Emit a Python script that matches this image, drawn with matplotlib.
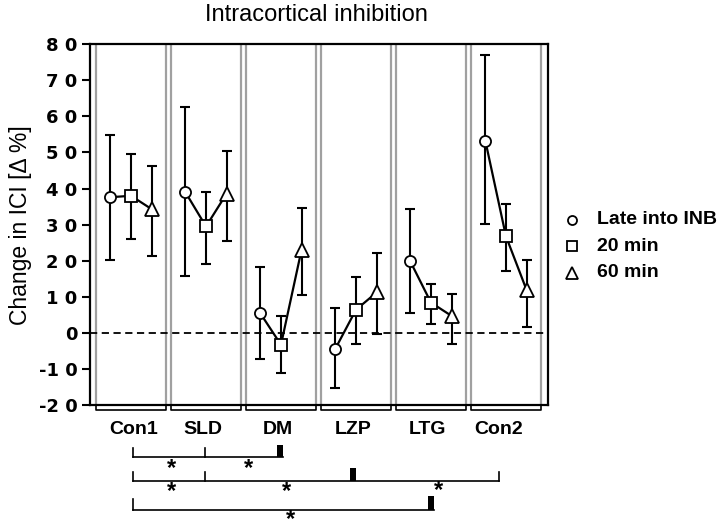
import numpy as np
import matplotlib
matplotlib.use('Agg')
import matplotlib.pyplot as plt
from matplotlib.ticker import FuncFormatter

plt.rcParams['font.family'] = ['Liberation Sans', 'DejaVu Sans']

groups = ['Con1', 'SLD', 'DM', 'LZP', 'LTG', 'Con2']
series = ['Late into INB', '20 min', '60 min']

# mean change in ICI (%) per group, one row per time point
late_mean = [37.6, 39.0, 5.4, -4.4, 19.8, 53.3]
late_hi = [54.8, 62.6, 18.2, 6.8, 34.3, 77.0]
late_lo = [20.1, 15.8, -7.3, -15.3, 5.5, 30.2]

m20_mean = [38.0, 29.5, -3.3, 6.4, 8.4, 26.8]
m20_hi = [49.6, 39.1, 4.8, 15.5, 13.5, 35.8]
m20_lo = [26.0, 19.2, -11.0, -3.1, 2.5, 17.2]

m60_mean = [34.3, 38.6, 23.1, 11.2, 4.7, 11.9]
m60_hi = [46.2, 50.5, 34.7, 22.1, 10.7, 20.3]
m60_lo = [21.2, 25.5, 10.6, -0.2, -3.1, 1.7]

means = np.array([late_mean, m20_mean, m60_mean])
his = np.array([late_hi, m20_hi, m60_hi])
los = np.array([late_lo, m20_lo, m60_lo])
markers = ['o', 's', '^']
msizes = [8, 8, 9.5]

fig = plt.figure(figsize=(7.2, 5.24), dpi=100)
ax = fig.add_axes([0.125, 0.2271, 0.636, 0.6884])

gx = np.arange(len(groups))
offs = [-0.275, 0.0, 0.275]
half = 0.467

# panels: grey edges and brackets underneath
for g in gx:
    for e in (g - half, g + half):
        ax.plot([e, e], [-20, 80], color='#a0a0a0', lw=1.6, zorder=1)
    ax.plot([g - half, g - half, g + half, g + half], [-20, -21.5, -21.5, -20],
            color='black', lw=1.2, clip_on=False, zorder=1)

ax.axhline(0, color='black', lw=1.3, ls=(0, (4, 2.5)), zorder=2)

for g in gx:
    xs = g + np.array(offs)
    ax.plot(xs, means[:, g], color='black', lw=1.6, zorder=3)
    for k in range(3):
        ax.errorbar(xs[k], means[k, g],
                    yerr=[[means[k, g] - los[k, g]], [his[k, g] - means[k, g]]],
                    fmt='none', ecolor='black', elinewidth=1.5, capsize=3.5,
                    capthick=1.5, zorder=3)
        ax.plot(xs[k], means[k, g], marker=markers[k], ms=msizes[k],
                mfc='white', mec='black', mew=1.3, zorder=4)

ax.set_xlim(-0.547, 5.56)
ax.set_ylim(-20, 80)
ax.set_yticks(np.arange(-20, 81, 10))
ax.yaxis.set_major_formatter(FuncFormatter(lambda v, p: ' '.join(str(int(v)))
                                           if v >= 0 else '-' + ' '.join(str(int(-v)))))
ax.set_xticks([])
ax.tick_params(axis='y', direction='out', length=6, width=1.5, pad=3)
for lab in ax.get_yticklabels():
    lab.set_fontfamily('DejaVu Sans')
    lab.set_fontweight('bold')
    lab.set_fontsize(13)
for s in ax.spines.values():
    s.set_linewidth(1.6)

ax.set_ylabel('Change in ICI [\u0394 %]', fontsize=16.5, labelpad=5)
fig.text(0.439, 0.972, 'Intracortical inhibition', fontsize=17, ha='center', va='center')

# group labels
label_x = [0.03, 0.96, 1.96, 2.96, 3.95, 4.9]
for x, name in zip(label_x, groups):
    ax.text(x, -26.9, name, ha='center', va='center', fontsize=14,
            fontweight='bold', clip_on=False)

# legend
for k in range(3):
    ly = [31.4, 24.0, 16.7][k]
    ax.plot(5.88, ly, marker=markers[k], ms=msizes[k] - 1.5, mfc='white', mec='black',
            mew=1.3, clip_on=False)
    ax.text(6.22, ly, series[k], ha='left', va='center', fontsize=14,
            fontweight='bold', clip_on=False)

# significance brackets
def bracket(y, x0, x1, ticks, thick, top, right_tick=False):
    ax.plot([x0, x1], [y, y], color='black', lw=1.2, clip_on=False)
    for t in ticks:
        ax.plot([t, t], [y, top], color='black', lw=1.2, clip_on=False)
    if right_tick:
        ax.plot([x1, x1], [y, top], color='black', lw=1.2, clip_on=False)
    ax.fill_between([thick - 0.08, thick], [y, y], [top + 0.9, top + 0.9],
                    color='black', lw=0, clip_on=False)

bracket(-34.5, 0.03, 2.03, [0.03, 0.987], 2.03, -32.0)
bracket(-41.0, 0.03, 4.91, [0.03, 0.987], 2.996, -38.5, right_tick=True)
bracket(-49.0, 0.03, 4.044, [0.03], 4.044, -46.1)

stars = [(0.543, -37.6), (1.564, -37.6), (0.543, -44.0), (2.067, -44.0),
         (4.107, -43.7), (2.13, -51.8)]
for sx, sy in stars:
    ax.text(sx, sy, '*', ha='center', va='center', fontsize=17,
            fontweight='bold', clip_on=False)

fig.savefig('out.png', dpi=100)
